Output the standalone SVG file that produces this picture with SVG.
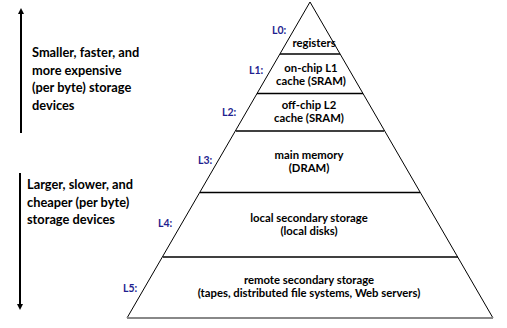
<svg xmlns="http://www.w3.org/2000/svg" width="507" height="328" viewBox="0 0 507 328">
<style>
.t{font-family:Lato,"Liberation Sans",sans-serif;font-weight:bold;font-size:11.3px;fill:#000;text-anchor:middle}
.s{font-family:Lato,"Liberation Sans",sans-serif;font-weight:bold;font-size:12.8px;fill:#000}
.l{font-family:Lato,"Liberation Sans",sans-serif;font-weight:bold;font-size:10.5px;fill:#1f1f8f}
.e{stroke:#000;stroke-width:1;fill:none}
.h{stroke:#000;stroke-width:1.5}
.a{stroke:#000;stroke-width:2;fill:none}
</style>
<defs>
<marker id="ah" markerWidth="6" markerHeight="6" refX="3" refY="3" orient="auto" markerUnits="userSpaceOnUse" viewBox="0 0 6 6">
<path d="M0,0 L6,3 L0,6 Z" fill="#000"/>
</marker>
</defs>
<g id="connectors">
<line class="a" x1="21" y1="133" x2="21" y2="11" marker-end="url(#ah)"/>
<line class="a" x1="20" y1="173" x2="20" y2="307" marker-end="url(#ah)"/>
</g>
<g id="pyramid">
<polyline class="e" points="127,318 310,2 493,318"/>
<line x1="127" y1="318" x2="493" y2="318" stroke="#888" stroke-width="2"/>
</g>
<g id="side-up"><text class="s" x="32" y="57">Smaller, faster, and</text><text class="s" x="32" y="74.5">more expensive</text><text class="s" x="32" y="92">(per byte) storage</text><text class="s" x="32" y="109.5">devices</text></g>
<g id="side-down"><text class="s" x="27" y="189">Larger, slower, and</text><text class="s" x="27" y="206.5">cheaper (per byte)</text><text class="s" x="27" y="224">storage devices</text></g>
<g id="L0"><text class="l" x="272" y="34">L0:</text><text class="t" x="314" y="47">registers</text><line class="h" x1="280" y1="54" x2="340" y2="54"/></g>
<g id="L1"><text class="l" x="249" y="74">L1:</text><text class="t" x="311" y="72">on-chip L1</text><text class="t" x="311" y="85">cache (SRAM)</text><line class="h" x1="257" y1="93.5" x2="363" y2="93.5"/></g>
<g id="L2"><text class="l" x="222" y="116">L2:</text><text class="t" x="309" y="109">off-chip L2</text><text class="t" x="309" y="122">cache (SRAM)</text><line class="h" x1="236" y1="131" x2="384" y2="131"/></g>
<g id="L3"><text class="l" x="198" y="164">L3:</text><text class="t" x="309" y="159">main memory</text><text class="t" x="309" y="172">(DRAM)</text><line class="h" x1="200" y1="192.5" x2="420" y2="192.5"/></g>
<g id="L4"><text class="l" x="158" y="227">L4:</text><text class="t" x="309" y="222">local secondary storage</text><text class="t" x="309" y="235">(local disks)</text><line class="h" x1="163" y1="257" x2="458" y2="257"/></g>
<g id="L5"><text class="l" x="123" y="292">L5:</text><text class="t" x="309" y="284">remote secondary storage</text><text class="t" x="309" y="297">(tapes, distributed file systems, Web servers)</text></g>
</svg>
